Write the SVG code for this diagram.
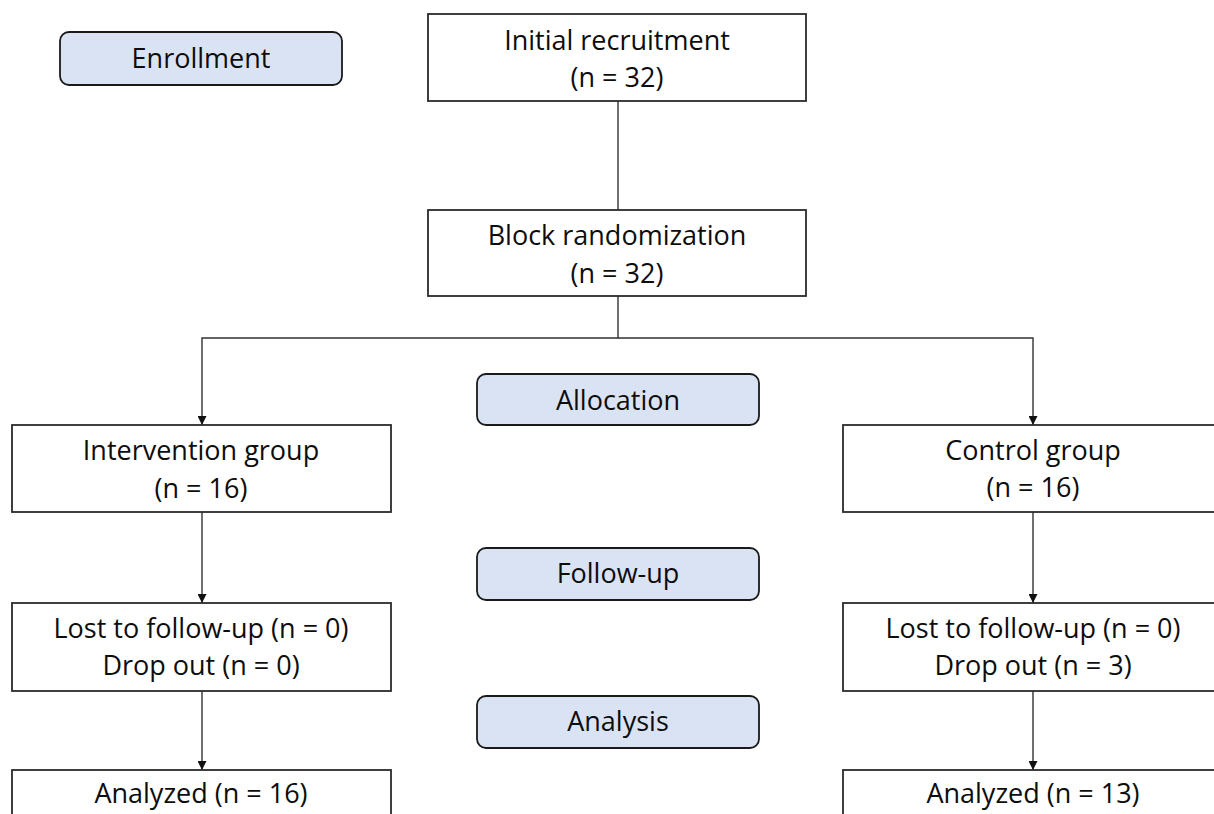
<svg xmlns="http://www.w3.org/2000/svg" width="1214" height="814" viewBox="0 0 1214 814">
<defs>
<marker id="arr" viewBox="0 0 10 10" refX="10" refY="5" markerWidth="10" markerHeight="9" markerUnits="userSpaceOnUse" orient="auto">
<path d="M0,0 L10,5 L0,10 Z" fill="#111111"/>
</marker>
<style>
.box{fill:#ffffff;stroke:#2b2b2b;stroke-width:1.8}
.stage{fill:#dae3f3;stroke:#1a1a1a;stroke-width:1.8}
.t{font-family:"Open Sans","Noto Sans",sans-serif;font-size:27px;fill:#0d0d0d;text-anchor:middle}
.ln{fill:none;stroke:#333333;stroke-width:1.4}
</style>
</defs>
<rect width="1214" height="814" fill="#ffffff"/>
<g id="connectors">
<line class="ln" x1="618" y1="101" x2="618" y2="210"/>
<polyline class="ln" points="618,296 618,338 202,338 202,425" marker-end="url(#arr)"/>
<polyline class="ln" points="618,338 1033,338 1033,425" marker-end="url(#arr)"/>
<line class="ln" x1="202" y1="512" x2="202" y2="603" marker-end="url(#arr)"/>
<line class="ln" x1="1033" y1="512" x2="1033" y2="603" marker-end="url(#arr)"/>
<line class="ln" x1="202" y1="691" x2="202" y2="770" marker-end="url(#arr)"/>
<line class="ln" x1="1033" y1="691" x2="1033" y2="770" marker-end="url(#arr)"/>
</g>
<g id="enrollment">
<rect class="stage" x="60" y="32" width="282" height="53" rx="9"/>
<text class="t" x="201" y="68">Enrollment</text>
</g>
<g id="initial-recruitment">
<rect class="box" x="428" y="14" width="378" height="87"/>
<text class="t" x="617" y="50">Initial recruitment</text>
<text class="t" x="617" y="87">(n = 32)</text>
</g>
<g id="block-randomization">
<rect class="box" x="428" y="210" width="378" height="86"/>
<text class="t" x="617" y="245">Block randomization</text>
<text class="t" x="617" y="283">(n = 32)</text>
</g>
<g id="allocation">
<rect class="stage" x="477" y="374" width="282" height="51" rx="9"/>
<text class="t" x="618" y="410">Allocation</text>
</g>
<g id="intervention-group">
<rect class="box" x="12" y="425" width="379" height="87"/>
<text class="t" x="201" y="460">Intervention group</text>
<text class="t" x="201" y="498">(n = 16)</text>
</g>
<g id="control-group">
<rect class="box" x="843" y="425" width="380" height="87"/>
<text class="t" x="1033" y="460">Control group</text>
<text class="t" x="1033" y="497">(n = 16)</text>
</g>
<g id="follow-up">
<rect class="stage" x="477" y="548" width="282" height="52" rx="9"/>
<text class="t" x="618" y="583">Follow-up</text>
</g>
<g id="intervention-lost">
<rect class="box" x="12" y="603" width="379" height="88"/>
<text class="t" x="201" y="638">Lost to follow-up (n = 0)</text>
<text class="t" x="201" y="675">Drop out (n = 0)</text>
</g>
<g id="control-lost">
<rect class="box" x="843" y="603" width="380" height="88"/>
<text class="t" x="1033" y="638">Lost to follow-up (n = 0)</text>
<text class="t" x="1033" y="675">Drop out (n = 3)</text>
</g>
<g id="analysis">
<rect class="stage" x="477" y="696" width="282" height="52" rx="9"/>
<text class="t" x="618" y="731">Analysis</text>
</g>
<g id="intervention-analyzed">
<rect class="box" x="12" y="770" width="379" height="90"/>
<text class="t" x="201" y="803">Analyzed (n = 16)</text>
</g>
<g id="control-analyzed">
<rect class="box" x="843" y="770" width="380" height="90"/>
<text class="t" x="1033" y="803">Analyzed (n = 13)</text>
</g>
</svg>
